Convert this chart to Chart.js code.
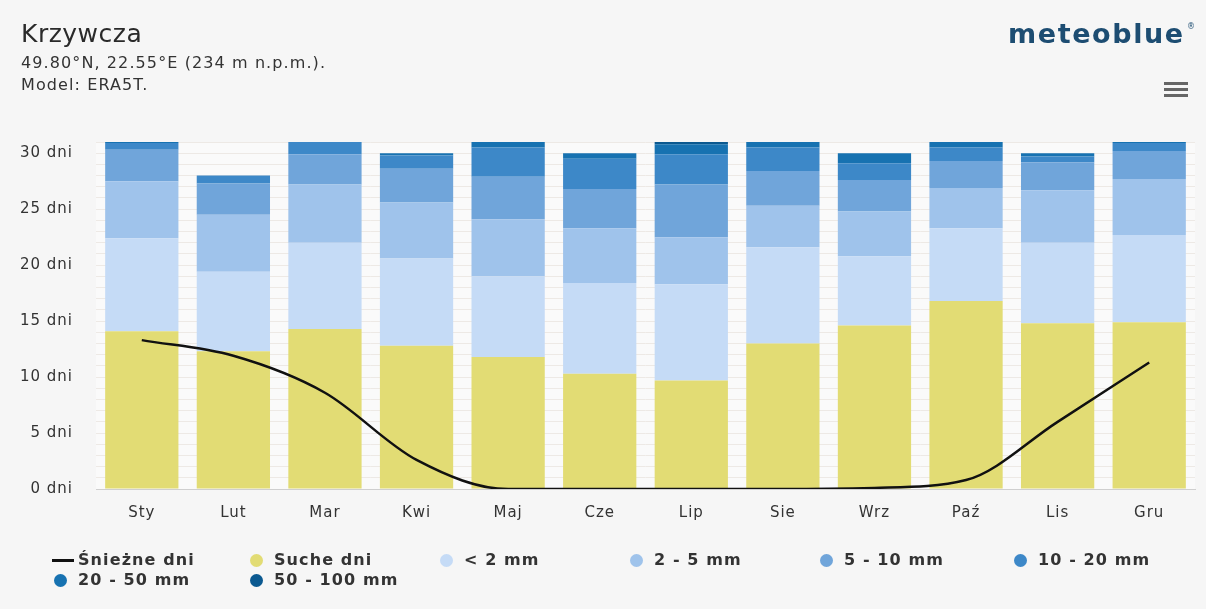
<!DOCTYPE html>
<html>
<head>
<meta charset="utf-8">
<script src="https://cdn.jsdelivr.net/npm/chart.js@4/dist/chart.umd.min.js"></script>
<style>
  html, body { margin:0; padding:0; background:#f6f6f6; }
  body { width:1206px; height:609px; position:relative; overflow:hidden; font-family:"DejaVu Sans", sans-serif; color:#333; }
  #wrap { position:absolute; left:0; top:0; width:1206px; height:609px; }
  .abs { position:absolute; white-space:nowrap; line-height:normal; }
  #title { left:21px; top:19px; font-size:25px; letter-spacing:0.5px; color:#2a2a2a; }
  .sub { left:21px; font-size:16px; letter-spacing:1.1px; color:#333; }
  #logo { left:1008px; top:18px; font-size:27px; letter-spacing:1.6px; color:#1d4d72; font-weight:600; }
  #reg { left:1187px; top:22px; font-size:8px; color:#1d4d72; }
  .bar { position:absolute; left:1164px; width:24px; height:3px; background:#666; }
  .lg { position:absolute; font-size:16px; font-weight:bold; letter-spacing:1.1px; color:#333; white-space:nowrap; line-height:normal; }
  .dot { position:absolute; width:13px; height:13px; border-radius:50%; }
  .ln { position:absolute; width:22px; height:3px; background:#111; }
</style>
</head>
<body>
<div id="wrap"><canvas id="c"></canvas></div>
<div id="title" class="abs">Krzywcza</div>
<div class="abs sub" style="top:53px">49.80°N, 22.55°E (234 m n.p.m.).</div>
<div class="abs sub" style="top:75px">Model: ERA5T.</div>
<div id="logo" class="abs">meteoblue</div>
<div id="reg" class="abs">®</div>
<div class="bar" style="top:82px"></div>
<div class="bar" style="top:88px"></div>
<div class="bar" style="top:94px"></div>
<div id="legend"></div>
<script>
// ---- data ----
const months = ["Sty","Lut","Mar","Kwi","Maj","Cze","Lip","Sie","Wrz","Paź","Lis","Gru"];
const snowDays = [13.3, 11.9, 8.6, 2.6, 0, 0, 0, 0, 0.1, 0.8, 6.0, 11.3];
const dryDays  = [14.1, 12.3, 14.3, 12.8, 11.8, 10.3, 9.7, 13.0, 14.6, 16.8, 14.8, 14.9];
const precLt2  = [8.3, 7.1, 7.7, 7.8, 7.2, 8.1, 8.6, 8.6, 6.2, 6.5, 7.2, 7.8];
const prec2_5  = [5.1, 5.1, 5.2, 5.0, 5.1, 4.9, 4.2, 3.7, 4.0, 3.6, 4.7, 5.0];
const prec5_10 = [2.8, 2.8, 2.7, 3.0, 3.8, 3.5, 4.7, 3.1, 2.8, 2.4, 2.5, 2.5];
const prec10_20 = [0.6, 0.7, 1.1, 1.2, 2.6, 2.7, 2.7, 2.1, 1.5, 1.2, 0.5, 0.7];
const prec20_50 = [0.1, 0, 0, 0.2, 0.5, 0.5, 0.9, 0.5, 0.9, 0.5, 0.3, 0.1];
const prec50_100 = [0, 0, 0, 0, 0, 0, 0.2, 0, 0, 0, 0, 0];
const yTicks = [0, 5, 10, 15, 20, 25, 30];
const yUnit = " dni";

const barSeries = [
  { label: "Suche dni",   data: dryDays,    color: "#e2dc74" },
  { label: "< 2 mm",      data: precLt2,    color: "#c5dbf6" },
  { label: "2 - 5 mm",    data: prec2_5,    color: "#9fc3eb" },
  { label: "5 - 10 mm",   data: prec5_10,   color: "#70a5da" },
  { label: "10 - 20 mm",  data: prec10_20,  color: "#3d88c8" },
  { label: "20 - 50 mm",  data: prec20_50,  color: "#1772b1" },
  { label: "50 - 100 mm", data: prec50_100, color: "#0b5990" }
];

const datasets = [{
  type: "line", label: "Śnieżne dni", data: snowDays, stack: "snow",
  borderColor: "#111", borderWidth: 2.5, pointRadius: 0, fill: false,
  cubicInterpolationMode: "monotone", order: 0
}].concat(barSeries.map(s => ({
  type: "bar", label: s.label, data: s.data, stack: "p",
  backgroundColor: s.color, borderWidth: 0, order: 1,
  barPercentage: 0.8, categoryPercentage: 1.0
})));

const bgPlugin = {
  id: "bg",
  beforeDraw(chart) {
    const { ctx, chartArea: a } = chart;
    ctx.save();
    ctx.fillStyle = "#fafafa";
    ctx.fillRect(a.left, a.top, a.right - a.left, a.bottom - a.top);
    ctx.restore();
    ctx.letterSpacing = "1px";
  }
};

new Chart(document.getElementById("c"), {
  data: { labels: months, datasets },
  plugins: [bgPlugin],
  options: {
    responsive: true, maintainAspectRatio: false, animation: false,
    layout: { padding: { left: 0, right: 11, top: 142, bottom: 80 } },
    plugins: { legend: { display: false }, tooltip: { enabled: false } },
    scales: {
      x: {
        stacked: true,
        grid: { display: false, drawTicks: false },
        border: { display: true, color: "#cfcfcf", width: 1 },
        ticks: { color: "#333", font: { family: "DejaVu Sans", size: 15 }, padding: 15 },
        afterFit(s) { s.height = 40; }
      },
      y: {
        stacked: true, min: 0, max: 31,
        grid: { color: "#ede9e5", lineWidth: 1, drawTicks: false },
        border: { display: false },
        ticks: {
          stepSize: 1, autoSkip: false, padding: 23, color: "#333",
          font: { family: "DejaVu Sans", size: 15 },
          callback: v => yTicks.includes(v) ? v + yUnit : ""
        },
        afterFit(s) { s.width = 96; }
      }
    }
  }
});

// ---- HTML legend built from the datasets ----
const legendItems = ["Śnieżne dni"].concat(barSeries.map(s => s.label));
const legendColors = [null].concat(barSeries.map(s => s.color));
const colX = [78, 274, 464, 654, 844, 1038];
const rowTop = [550, 570];
const lg = document.getElementById("legend");
legendItems.forEach((txt, i) => {
  const row = i < 6 ? 0 : 1;
  const col = i < 6 ? i : i - 6;
  const x = colX[col], top = rowTop[row];
  const t = document.createElement("div");
  t.className = "lg"; t.textContent = txt;
  t.style.left = x + "px"; t.style.top = top + "px";
  lg.appendChild(t);
  if (legendColors[i] === null) {
    const l = document.createElement("div");
    l.className = "ln"; l.style.left = (x - 26) + "px"; l.style.top = (top + 9) + "px";
    lg.appendChild(l);
  } else {
    const d = document.createElement("div");
    d.className = "dot"; d.style.background = legendColors[i];
    d.style.left = (x - 24) + "px"; d.style.top = (top + 4) + "px";
    lg.appendChild(d);
  }
});
</script>
</body>
</html>
